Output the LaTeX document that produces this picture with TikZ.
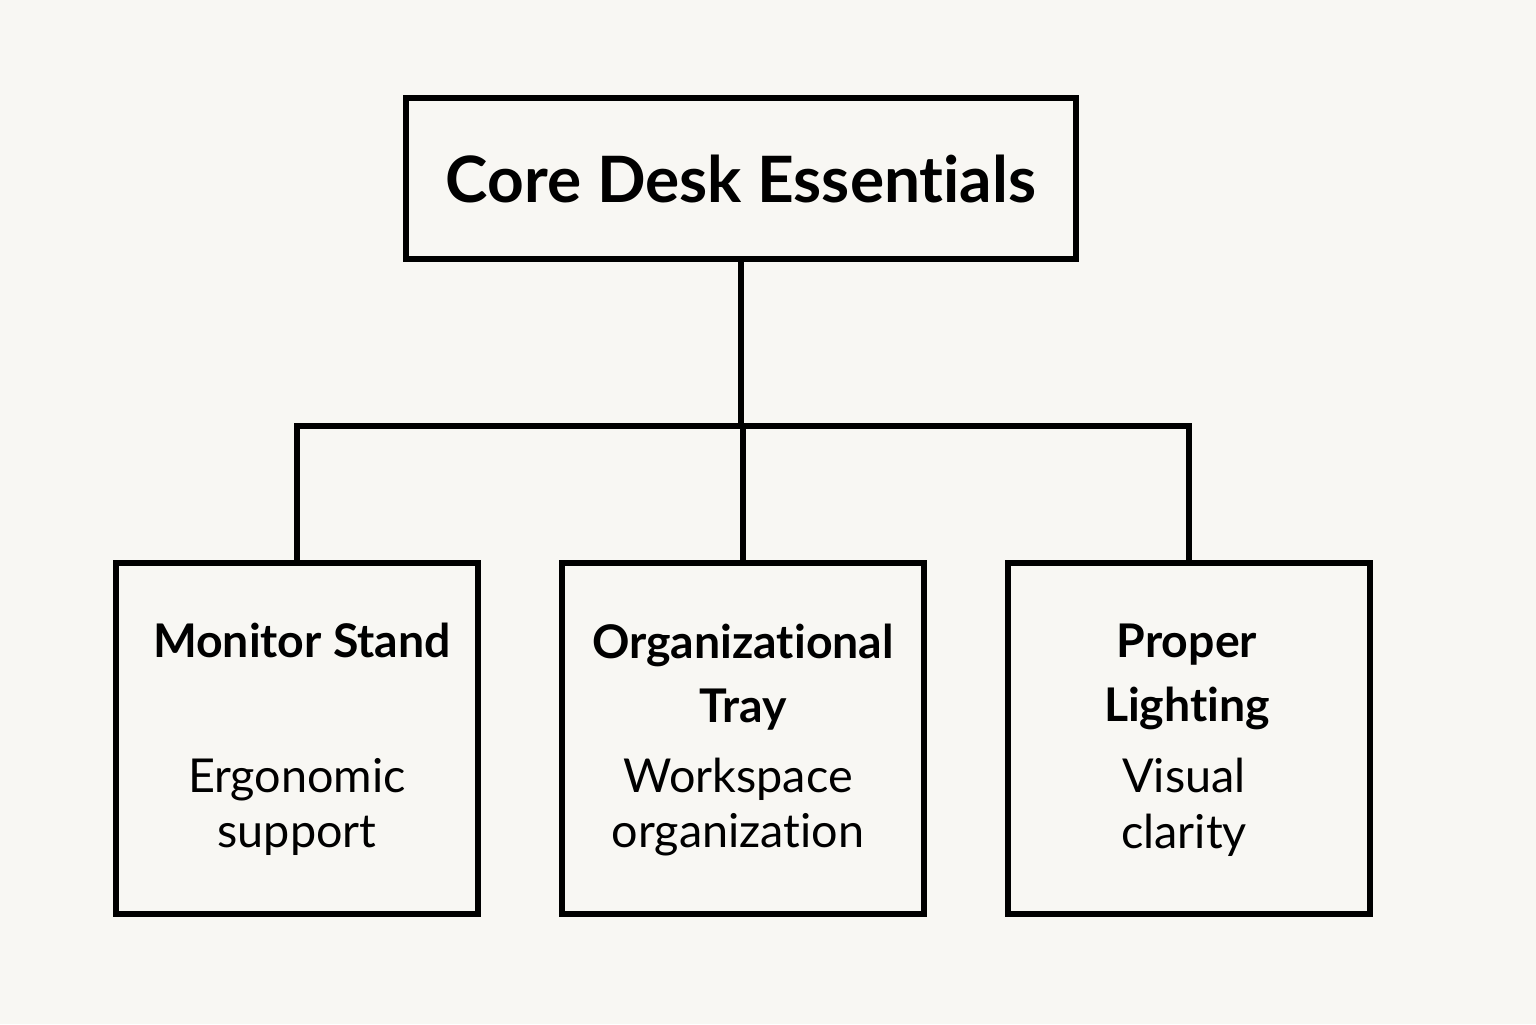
\documentclass[tikz,border=0pt]{standalone}
\usepackage{fontspec}
\setmainfont{Lato}[Ligatures=NoCommon]
\definecolor{paper}{HTML}{F8F7F3}
\tikzset{
  box/.style={draw, line width=1.7pt, minimum width=3.62cm, minimum height=3.51cm},
  title/.style={font=\fontsize{13.2}{18.4}\selectfont\bfseries, align=center, inner sep=0pt},
  sub/.style={font=\fontsize{13.3}{15.9}\selectfont, align=center, inner sep=0pt},
  link/.style={line width=1.7pt}
}
\begin{document}
\begin{tikzpicture}
  \fill [paper] (0,0) rectangle (15.36,10.24) ;
  \useasboundingbox (0,0) rectangle (15.36,10.24) ;

  \node [draw, line width=1.7pt, minimum width=6.7cm, minimum height=1.61cm,
         font=\fontsize{18.2}{20}\selectfont\bfseries] (core) at (7.41,8.455) {Core Desk Essentials} ;

  \node [box] (stand) at (2.97,2.855) {} ;
  \node [box] (tray) at (7.43,2.855) {} ;
  \node [box] (light) at (11.89,2.855) {} ;

  % titles
  \node [title] (standT) at (3.02,3.84) {Monitor Stand} ;
  \node [title] (trayT) at (7.43,3.47) {Organizational\\Tray} ;
  \node [title] (lightT) at (11.87,3.47) {Proper\\Lighting} ;

  % descriptions
  \node [sub] (standD) at (2.97,2.17) {Ergonomic\\support} ;
  \node [sub] (trayD) at (7.38,2.17) {Workspace\\organization} ;
  \node [sub] (lightD) at (11.84,2.17) {Visual\\clarity} ;

  \coordinate (bar) at (7.41,5.98) ;
  \draw [link] (core.south) -- (core.south |- bar) ;
  \draw [link] (stand.north) -- (stand.north |- bar) -- (light.north |- bar) -- (light.north) ;
  \draw [link] (tray.north) -- (tray.north |- bar) ;
\end{tikzpicture}
\end{document}
